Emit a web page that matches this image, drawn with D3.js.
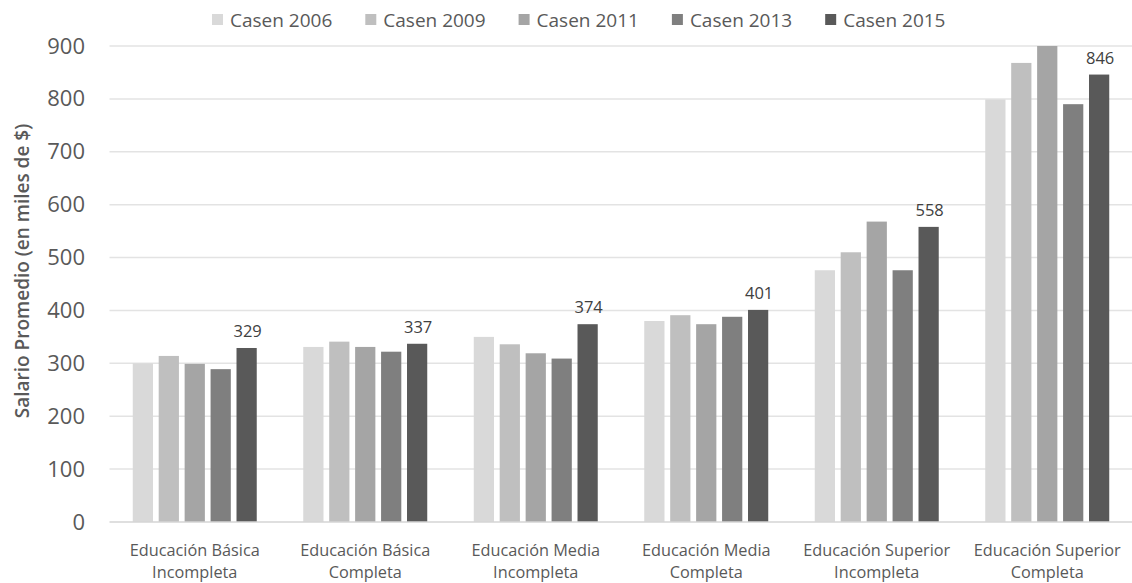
<!DOCTYPE html>
<html>
<head>
<meta charset="utf-8">
<script src="https://cdn.jsdelivr.net/npm/d3@7"></script>
<style>
  html, body { margin: 0; padding: 0; background: #fff; }
  svg { display: block; font-family: "Open Sans", "DejaVu Sans", sans-serif; }
</style>
</head>
<body>
<svg id="chart" width="1132" height="583"></svg>
<script>
// ---- data ----
const categories = [
  ["Educación Básica", "Incompleta"],
  ["Educación Básica", "Completa"],
  ["Educación Media", "Incompleta"],
  ["Educación Media", "Completa"],
  ["Educación Superior", "Incompleta"],
  ["Educación Superior", "Completa"]
];
const seriesNames = ["Casen 2006", "Casen 2009", "Casen 2011", "Casen 2013", "Casen 2015"];
const casen2006 = [300, 331, 350, 380, 476, 799];
const casen2009 = [314, 341, 336, 391, 510, 868];
const casen2011 = [299, 331, 319, 374, 568, 900];
const casen2013 = [289, 322, 309, 388, 476, 790];
const casen2015 = [329, 337, 374, 401, 558, 846];
const labeledSeries = "Casen 2015";
const yTicks = [0, 100, 200, 300, 400, 500, 600, 700, 800, 900];
const yTitle = "Salario Promedio (en miles de $)";
const colors = ["#d9d9d9", "#bfbfbf", "#a5a5a5", "#7f7f7f", "#595959"];

const seriesValues = [casen2006, casen2009, casen2011, casen2013, casen2015];
const catKeys = categories.map((c, i) => "c" + i);

// ---- layout ----
const svg = d3.select("#chart");
const plotLeft = 109.5, plotRight = 1132.5, plotTop = 46, plotBottom = 522;

const y = d3.scaleLinear().domain([0, 900]).range([plotBottom, plotTop]);
const x0 = d3.scaleBand().domain(catKeys).range([plotLeft, plotRight]).padding(0);
const groupPad = x0.bandwidth() * 0.1364;
const x1 = d3.scaleBand().domain(seriesNames)
  .range([groupPad, x0.bandwidth() - groupPad]).paddingInner(0.22).paddingOuter(0);
const color = d3.scaleOrdinal().domain(seriesNames).range(colors);

// gridlines
svg.append("g")
  .selectAll("line")
  .data(yTicks.filter(t => t > 0))
  .join("line")
  .attr("x1", plotLeft).attr("x2", plotRight)
  .attr("y1", d => y(d)).attr("y2", d => y(d))
  .attr("stroke", "#e3e3e3").attr("stroke-width", 1.5);

// y axis labels
const yAxis = d3.axisLeft(y).tickValues(yTicks).tickSize(0).tickPadding(0);
const gy = svg.append("g").attr("transform", `translate(85,0)`).call(yAxis);
gy.select(".domain").remove();
gy.selectAll("text")
  .attr("fill", "#595959")
  .style("font-size", "22px")
  .style("font-family", '"Open Sans", sans-serif');

// bars
const groups = svg.append("g")
  .selectAll("g")
  .data(catKeys)
  .join("g")
  .attr("transform", d => `translate(${x0(d)},0)`);

groups.selectAll("rect")
  .data((d, i) => seriesNames.map((s, j) => ({ s, v: seriesValues[j][i] })))
  .join("rect")
  .attr("x", d => x1(d.s))
  .attr("width", x1.bandwidth())
  .attr("y", d => y(Math.min(d.v, 900)))
  .attr("height", d => plotBottom - y(Math.min(d.v, 900)))
  .attr("fill", d => color(d.s));

// data labels
groups.selectAll("text.lbl")
  .data((d, i) => seriesNames.map((s, j) => ({ s, v: seriesValues[j][i] })).filter(d => d.s === labeledSeries))
  .join("text")
  .attr("class", "lbl")
  .attr("x", d => x1(d.s) + x1.bandwidth() / 2 + 1)
  .attr("y", d => y(d.v) - 11)
  .attr("text-anchor", "middle")
  .attr("fill", "#404040")
  .style("font-size", "16.5px")
  .text(d => d.v);

// baseline axis
const xAxis = d3.axisBottom(x0).tickSize(0).tickFormat(() => "");
const gx = svg.append("g").attr("transform", `translate(0,${plotBottom})`).call(xAxis);
gx.select(".domain").attr("stroke", "#d4d4d4").attr("stroke-width", 1.5)
  .attr("d", `M${plotLeft},0H${plotRight}`);

// x category labels
const xl = svg.append("g")
  .selectAll("text")
  .data(catKeys)
  .join("text")
  .attr("x", d => x0(d) + x0.bandwidth() / 2)
  .attr("y", 556)
  .attr("text-anchor", "middle")
  .attr("fill", "#595959")
  .style("font-size", "16.3px");
xl.append("tspan").attr("x", d => x0(d) + x0.bandwidth() / 2).text((d, i) => categories[i][0]);
xl.append("tspan").attr("x", d => x0(d) + x0.bandwidth() / 2).attr("dy", 22).text((d, i) => categories[i][1]);

// y title
svg.append("text")
  .attr("transform", `translate(29,271) rotate(-90)`)
  .attr("text-anchor", "middle")
  .attr("fill", "#595959")
  .style("font-size", "19px")
  .style("font-weight", "600")
  .text(yTitle);

// legend
const legend = svg.append("g");
let lx = 212;
seriesNames.forEach((s, i) => {
  legend.append("rect")
    .attr("x", lx).attr("y", 14).attr("width", 11).attr("height", 11)
    .attr("fill", color(s));
  const t = legend.append("text")
    .attr("x", lx + 18).attr("y", 26.5)
    .attr("fill", "#595959")
    .style("font-size", "19px")
    .text(s);
  lx += 18 + t.node().getComputedTextLength() + 33;
});
</script>
</body>
</html>
